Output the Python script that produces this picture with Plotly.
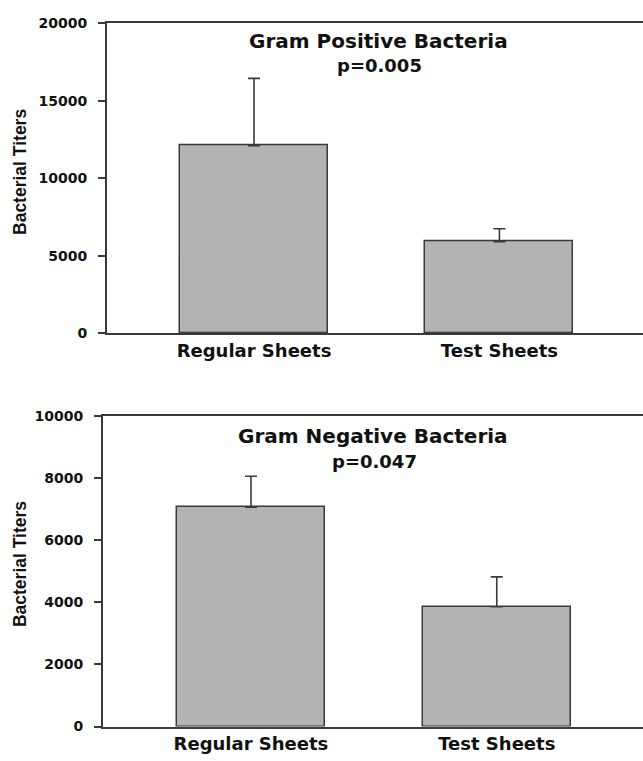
import plotly.graph_objects as go

categories = ["Regular Sheets", "Test Sheets"]
pos_values = [12100, 5900]
pos_errors = [4350, 830]
neg_values = [7060, 3855]
neg_errors = [1000, 965]
pos_title = "Gram Positive Bacteria"
pos_p = "p=0.005"
neg_title = "Gram Negative Bacteria"
neg_p = "p=0.047"
y_title = "Bacterial Titers"
pos_ticks = [0, 5000, 10000, 15000, 20000]
neg_ticks = [0, 2000, 4000, 6000, 8000, 10000]

W, H = 643, 761
BAR = "#b3b3b3"
LINE = "#3a3a3a"
FONT = "DejaVu Sans"

fig = go.Figure()
xs = [0, 1]
fig.add_trace(go.Bar(x=xs, y=pos_values, width=0.603, marker=dict(color=BAR, line=dict(color=LINE, width=1.5)),
                     error_y=dict(type="data", symmetric=False, array=pos_errors, arrayminus=[0, 0],
                                  color=LINE, thickness=1.6, width=6),
                     xaxis="x", yaxis="y", showlegend=False, hoverinfo="skip"))
fig.add_trace(go.Bar(x=xs, y=neg_values, width=0.602, marker=dict(color=BAR, line=dict(color=LINE, width=1.5)),
                     error_y=dict(type="data", symmetric=False, array=neg_errors, arrayminus=[0, 0],
                                  color=LINE, thickness=1.6, width=6),
                     xaxis="x2", yaxis="y2", showlegend=False, hoverinfo="skip"))

def yd(top_px, bot_px):
    return [1 - bot_px / H, 1 - top_px / H]

axis_common = dict(showline=True, linecolor=LINE, linewidth=2, showgrid=False, zeroline=False)
tickfont = dict(family=FONT, size=14, color="#111", weight="bold")
catfont = dict(family=FONT, size=18, color="#111", weight="bold")

fig.update_layout(
    width=W, height=H, margin=dict(l=0, r=0, t=0, b=0),
    paper_bgcolor="white", plot_bgcolor="white", bargap=0,
    xaxis=dict(domain=[107 / W, 1], range=[-0.599, 1.585], tickvals=xs, ticktext=categories,
               ticks="", mirror=True, tickfont=catfont, anchor="y", **axis_common),
    yaxis=dict(domain=yd(15.7, 332), range=[0, 20000], tickvals=pos_ticks,
               ticktext=[str(t) for t in pos_ticks], ticks="outside", ticklabelstandoff=8,
               ticklen=7, tickwidth=2, tickcolor=LINE, tickfont=tickfont, anchor="x", **axis_common),
    xaxis2=dict(domain=[103 / W, 1], range=[-0.602, 1.595], tickvals=xs, ticktext=categories,
                ticks="", mirror=True, tickfont=catfont, anchor="y2", **axis_common),
    yaxis2=dict(domain=yd(416.7, 734), range=[0, 10000], tickvals=neg_ticks,
                ticktext=[str(t) for t in neg_ticks], ticks="outside", ticklabelstandoff=8,
                ticklen=7, tickwidth=2, tickcolor=LINE, tickfont=tickfont, anchor="x2", **axis_common),
)

def ann(text, x, y, size, angle=0, family=FONT):
    fig.add_annotation(text=text, x=x / W, y=1 - y / H, xref="paper", yref="paper",
                       showarrow=False, textangle=angle, xanchor="center", yanchor="middle",
                       font=dict(family=family, size=size, color="#111", weight="bold"))

ann(pos_title, 378, 34, 20)
ann(pos_p, 379, 59, 18)
ann(neg_title, 373, 437, 20)
ann(neg_p, 374, 463, 18)
ann(y_title, 20, 167.5, 17.5, angle=-90, family="Liberation Sans")
ann(y_title, 20, 568, 17.5, angle=-90, family="Liberation Sans")

fig.write_html("out.html", config={"displayModeBar": False},
               post_script="document.body.style.margin='0';document.body.style.overflow='hidden';")
